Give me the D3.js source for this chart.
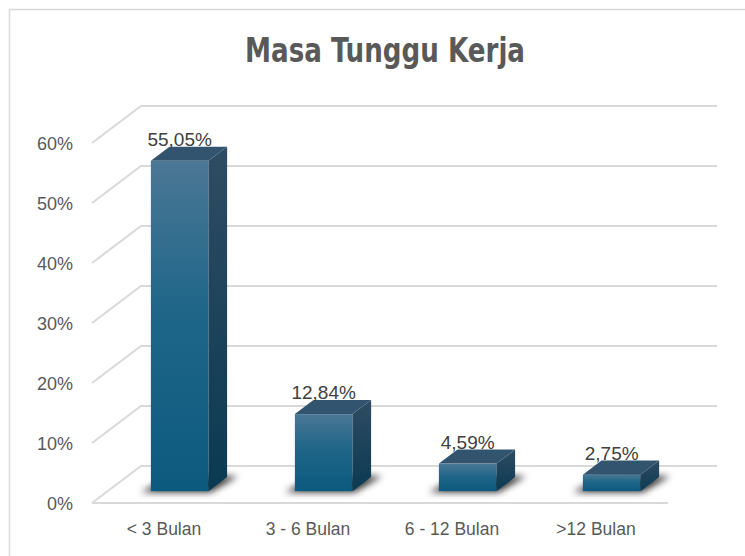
<!DOCTYPE html>
<html><head><meta charset="utf-8">
<script src="https://cdn.jsdelivr.net/npm/d3@7"></script>
<style>html,body{margin:0;padding:0;background:#fff;overflow:hidden}</style>
</head><body>
<svg id="c" width="745" height="556"></svg>
<script>
const title = "Masa Tunggu Kerja";
const categories = ["< 3 Bulan", "3 - 6 Bulan", "6 - 12 Bulan", ">12 Bulan"];
const values = [55.05, 12.84, 4.59, 2.75];
const valueLabels = ["55,05%", "12,84%", "4,59%", "2,75%"];
const ticks = [0, 10, 20, 30, 40, 50, 60];
const tickLabels = ["0%", "10%", "20%", "30%", "40%", "50%", "60%"];

const svg = d3.select("#c");
const W = 745, H = 556;
const DX = 49, DY = -37;          // depth offset of the 3D box
const F0 = 0.32, F1 = 0.70;       // bar depth position (fraction)

const x = d3.scaleBand().domain(categories).range([92, 668]);
const y = d3.scaleLinear().domain([0, 60]).range([503, 143]);

const defs = svg.append("defs");
const gf = defs.append("linearGradient").attr("id", "gFront").attr("x1", 0).attr("y1", 0).attr("x2", 0).attr("y2", 1);
gf.append("stop").attr("offset", 0).attr("stop-color", "#4b7795");
gf.append("stop").attr("offset", 0.45).attr("stop-color", "#1f6689");
gf.append("stop").attr("offset", 1).attr("stop-color", "#0c5a7e");
const gs = defs.append("linearGradient").attr("id", "gSide").attr("x1", 0).attr("y1", 0).attr("x2", 0).attr("y2", 1);
gs.append("stop").attr("offset", 0).attr("stop-color", "#2f4c62");
gs.append("stop").attr("offset", 1).attr("stop-color", "#0a3a53");
const blur = defs.append("filter").attr("id", "blur").attr("x", "-50%").attr("y", "-50%").attr("width", "200%").attr("height", "200%");
blur.append("feGaussianBlur").attr("stdDeviation", 3.5);

// frame
svg.append("rect").attr("x", 9.5).attr("y", 9.5).attr("width", W).attr("height", H)
  .attr("fill", "#fff").attr("stroke", "#d9d9d9").attr("stroke-width", 1.5);

// title
svg.append("text").attr("x", 385).attr("y", 62).attr("text-anchor", "middle")
  .attr("font-family", "'Liberation Sans Narrow', 'DejaVu Sans Condensed', 'Liberation Sans', sans-serif")
  .attr("font-weight", "bold").attr("font-size", 33).attr("fill", "#595959")
  .attr("textLength", 280).attr("lengthAdjust", "spacingAndGlyphs").text(title);

// gridlines
const x0 = x.range()[0], x1 = x.range()[1];
const grid = svg.append("g").attr("stroke", "#d9d9d9").attr("stroke-width", 2).attr("fill", "none");
ticks.forEach(t => {
  const yy = y(t);
  grid.append("path").attr("d", `M${x0},${yy}L${x0 + DX},${yy + DY}L${x1 + DX},${yy + DY}`);
});
grid.append("line").attr("x1", x0).attr("x2", x1).attr("y1", y(0)).attr("y2", y(0));

// tick labels
svg.append("g").selectAll("text").data(ticks).join("text")
  .attr("x", 73).attr("y", d => y(d) + 7).attr("text-anchor", "end")
  .attr("font-family", "'Liberation Sans', Arial, sans-serif").attr("font-size", 18)
  .attr("fill", "#595959").text((d, i) => tickLabels[i]);

// category labels
svg.append("g").selectAll("text").data(categories).join("text")
  .attr("x", d => x(d) + x.bandwidth() / 2).attr("y", 535).attr("text-anchor", "middle")
  .attr("font-family", "'Liberation Sans', Arial, sans-serif").attr("font-size", 17.5)
  .attr("fill", "#595959").text(d => d);

// bars
const bw = x.bandwidth() * 0.4;
const ox = F0 * DX, oy = F0 * DY;
const bdx = (F1 - F0) * DX, bdy = (F1 - F0) * DY;
const bars = svg.append("g");
categories.forEach((c, i) => {
  const cx = x(c) + x.bandwidth() / 2 + ox;
  const L = cx - bw / 2, R = cx + bw / 2;
  const B = y(0) + oy, T = y(values[i]) + oy;
  // shadow
  bars.append("path").attr("filter", "url(#blur)").attr("fill", "#000").attr("opacity", 0.8)
    .attr("d", `M${L - 10},${B + 1}L${R + 2},${B + 1}L${R + bdx + 11},${B + bdy - 1}L${L + bdx},${B + bdy}Z`);
  // front
  bars.append("rect").attr("x", L).attr("y", T).attr("width", bw).attr("height", B - T).attr("fill", "url(#gFront)");
  // side
  bars.append("path").attr("fill", "url(#gSide)")
    .attr("d", `M${R},${T}L${R + bdx},${T + bdy}L${R + bdx},${B + bdy}L${R},${B}Z`);
  // top
  bars.append("path").attr("fill", "#32546e")
    .attr("d", `M${L},${T}L${L + bdx},${T + bdy}L${R + bdx},${T + bdy}L${R},${T}Z`);
  // label
  bars.append("text").attr("x", cx).attr("y", T + bdy - 1).attr("text-anchor", "middle")
    .attr("font-family", "'Liberation Sans', Arial, sans-serif").attr("font-size", 19)
    .attr("fill", "#404040").text(valueLabels[i]);
});
</script>
</body></html>
